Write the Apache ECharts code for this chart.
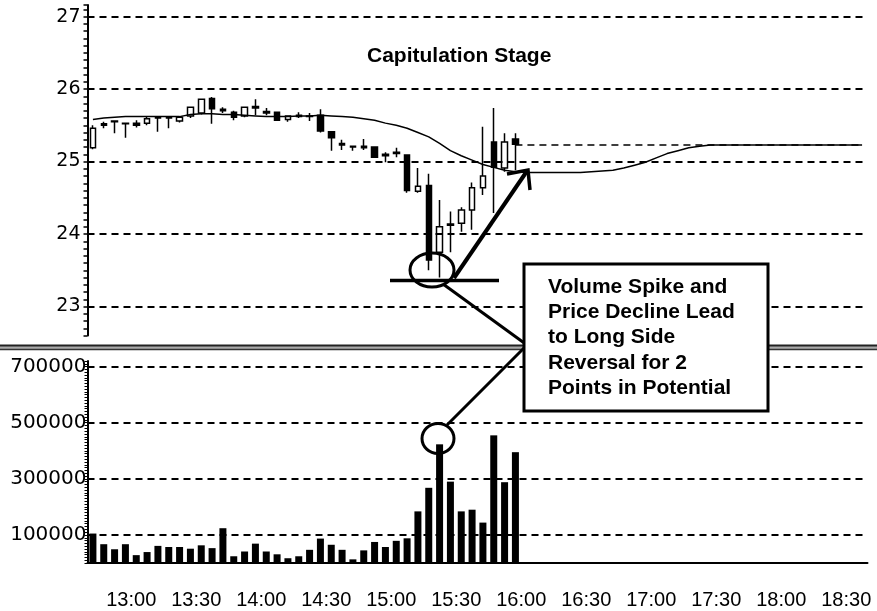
<!DOCTYPE html>
<html>
<head>
<meta charset="utf-8">
<script src="https://cdn.jsdelivr.net/npm/echarts@6/dist/echarts.min.js"></script>
<style>
html, body { margin: 0; padding: 0; background: #fff; }
#main { width: 877px; height: 611px; }
</style>
</head>
<body>
<div id="main"></div>
<script>
// 5 minute slots, 12:40 .. 18:35
var times = ['12:40', '12:45', '12:50', '12:55',
    '13:00', '13:05', '13:10', '13:15', '13:20', '13:25', '13:30', '13:35', '13:40', '13:45', '13:50', '13:55',
    '14:00', '14:05', '14:10', '14:15', '14:20', '14:25', '14:30', '14:35', '14:40', '14:45', '14:50', '14:55',
    '15:00', '15:05', '15:10', '15:15', '15:20', '15:25', '15:30', '15:35', '15:40', '15:45', '15:50', '15:55',
    '16:00', '16:05', '16:10', '16:15', '16:20', '16:25', '16:30', '16:35', '16:40', '16:45', '16:50', '16:55',
    '17:00', '17:05', '17:10', '17:15', '17:20', '17:25', '17:30', '17:35', '17:40', '17:45', '17:50', '17:55',
    '18:00', '18:05', '18:10', '18:15', '18:20', '18:25', '18:30', '18:35'];

// candles 12:40 .. 15:55
var opens  = [25.19, 25.52, 25.56, 25.53, 25.53, 25.53, 25.61, 25.61, 25.56, 25.63,
              25.67, 25.87, 25.72, 25.68, 25.63, 25.76, 25.69, 25.68, 25.58, 25.64,
              25.63, 25.64, 25.41, 25.25, 25.21, 25.21, 25.20, 25.10, 25.13, 25.09,
              24.59, 24.67, 23.75, 24.14, 24.15, 24.33, 24.64, 25.27, 24.91, 25.31];
var closes = [25.46, 25.50, 25.55, 25.52, 25.50, 25.59, 25.60, 25.60, 25.61, 25.75,
              25.86, 25.73, 25.70, 25.61, 25.75, 25.74, 25.67, 25.57, 25.63, 25.62,
              25.62, 25.42, 25.33, 25.23, 25.20, 25.19, 25.06, 25.08, 25.11, 24.60,
              24.66, 23.64, 24.10, 24.12, 24.33, 24.64, 24.80, 24.92, 25.27, 25.24];
var lows   = [25.17, 25.46, 25.39, 25.33, 25.47, 25.50, 25.41, 25.46, 25.54, 25.60,
              25.65, 25.52, 25.67, 25.57, 25.61, 25.64, 25.64, 25.56, 25.55, 25.60,
              25.56, 25.40, 25.15, 25.16, 25.15, 25.16, 25.05, 24.99, 25.06, 24.57,
              24.57, 23.50, 23.40, 23.75, 24.03, 24.06, 24.54, 24.29, 24.86, 24.88];
var highs  = [25.50, 25.55, 25.57, 25.54, 25.57, 25.63, 25.62, 25.63, 25.62, 25.76,
              25.87, 25.89, 25.75, 25.70, 25.76, 25.86, 25.74, 25.69, 25.64, 25.68,
              25.67, 25.72, 25.42, 25.30, 25.22, 25.31, 25.21, 25.13, 25.19, 25.10,
              24.91, 24.83, 24.47, 24.31, 24.37, 24.71, 25.48, 25.74, 25.39, 25.39];

var volumes = [105000, 67000, 49000, 67000, 28000, 39000, 61000, 57000, 57000, 51000,
               63000, 53000, 124000, 24000, 41000, 69000, 41000, 31000, 17000, 24000,
               47000, 87000, 65000, 47000, 13000, 45000, 75000, 57000, 79000, 88000,
               184000, 268000, 423000, 290000, 184000, 190000, 144000, 455000, 288000, 395000];

// average line, runs to the right edge
var avgLine = [25.58, 25.60, 25.61, 25.62, 25.62, 25.62, 25.62, 25.62, 25.62, 25.65,
               25.66, 25.66, 25.65, 25.65, 25.64, 25.63, 25.62, 25.62, 25.62, 25.63,
               25.63, 25.64, 25.63, 25.62, 25.61, 25.59, 25.57, 25.53, 25.50, 25.46,
               25.40, 25.34, 25.25, 25.15, 25.08, 25.02, 24.96, 24.92, 24.88, 24.86,
               24.85, 24.85, 24.85, 24.85, 24.85, 24.85, 24.86, 24.87, 24.88, 24.91,
               24.95, 24.99, 25.05, 25.11, 25.15, 25.19, 25.21, 25.23, 25.23, 25.23,
               25.23, 25.23, 25.23, 25.23, 25.23, 25.23, 25.23, 25.23, 25.23, 25.23,
               25.23, 25.23];

var priceLevels = [23, 24, 25, 26, 27];
var volumeLevels = [100000, 300000, 500000, 700000];
var lastPrice = 25.23;

var noteLines = ['Volume Spike and', 'Price Decline Lead', 'to Long Side', 'Reversal for 2', 'Points in Potential'];

var chart = echarts.init(document.getElementById('main'));

var gridDash = { color: '#000', width: 2, type: [7, 5] };
var labelFont = 'DejaVu Sans';
var boldFont = 'bold 21px "Liberation Sans", Arial';

function isHalfHour(value) {
    return /:(00|30)$/.test(value);
}

var candles = opens.map(function (o, i) {
    return [o, closes[i], lows[i], highs[i]];
});

var graphics = [
    // panel separator
    { type: 'rect', shape: { x: 0, y: 345, width: 877, height: 5 }, style: { fill: '#aaa' }, z: 100 },
    { type: 'line', shape: { x1: 0, y1: 345.5, x2: 877, y2: 345.5 }, style: { stroke: '#222', lineWidth: 2 }, z: 100 },
    { type: 'line', shape: { x1: 0, y1: 349.5, x2: 877, y2: 349.5 }, style: { stroke: '#333', lineWidth: 1.5 }, z: 100 },
    { type: 'text', style: { x: 367, y: 56, text: 'Capitulation Stage', font: boldFont, fill: '#000', verticalAlign: 'middle' }, z: 100 },
    // support line and circles
    { type: 'line', shape: { x1: 390, y1: 280.5, x2: 499, y2: 280.5 }, style: { stroke: '#000', lineWidth: 3.5 }, z: 100 },
    { type: 'ellipse', shape: { cx: 432, cy: 270, rx: 22, ry: 17 }, style: { stroke: '#000', fill: null, lineWidth: 3 }, z: 100 },
    { type: 'ellipse', shape: { cx: 438, cy: 438.5, rx: 16, ry: 15 }, style: { stroke: '#000', fill: null, lineWidth: 3 }, z: 100 },
    // arrow up to the reversal
    { type: 'line', shape: { x1: 454, y1: 278, x2: 527, y2: 171 }, style: { stroke: '#000', lineWidth: 4 }, z: 100 },
    { type: 'polyline', shape: { points: [[507, 174], [528, 170], [530, 190]] }, style: { stroke: '#000', lineWidth: 3.5, fill: null }, z: 100 },
    // pointers to the note
    { type: 'line', shape: { x1: 443, y1: 284, x2: 527, y2: 345 }, style: { stroke: '#000', lineWidth: 3 }, z: 100 },
    { type: 'line', shape: { x1: 447, y1: 425, x2: 527, y2: 345 }, style: { stroke: '#000', lineWidth: 3 }, z: 100 },
    { type: 'rect', shape: { x: 524, y: 264, width: 244, height: 147 }, style: { stroke: '#000', fill: '#fff', lineWidth: 3 }, z: 101 }
];
noteLines.forEach(function (t, i) {
    graphics.push({
        type: 'text', z: 102,
        style: { x: 548, y: 287 + i * 25.3, text: t, font: boldFont, fill: '#000', verticalAlign: 'middle' }
    });
});

var option = {
    animation: false,
    backgroundColor: '#fff',
    grid: [
        { left: 87.5, right: 9.5, top: 5, height: 330.5 },
        { left: 87.5, right: 9.5, top: 361, height: 202 }
    ],
    xAxis: [
        { gridIndex: 0, type: 'category', data: times, boundaryGap: true, show: false },
        {
            gridIndex: 1, type: 'category', data: times, boundaryGap: true,
            axisLine: { lineStyle: { color: '#000', width: 2 } },
            axisTick: { alignWithLabel: true, interval: 0, length: 7, lineStyle: { color: '#000', width: 1.5 } },
            axisLabel: {
                interval: function (idx, value) { return isHalfHour(value); },
                margin: 27, color: '#000', fontSize: 20,
                fontFamily: '"Liberation Sans", Arial, sans-serif',
                padding: [0, 10, 0, 0]
            }
        },
        {
            gridIndex: 1, type: 'category', data: times, boundaryGap: true, position: 'bottom',
            axisLine: { show: false },
            axisTick: { alignWithLabel: true, interval: function (idx, value) { return isHalfHour(value); }, length: 14, lineStyle: { color: '#000', width: 1.5 } },
            axisLabel: { show: false }
        }
    ],
    yAxis: [
        {
            gridIndex: 0, type: 'value', min: 22.6, max: 27.16, interval: 0.1,
            axisLine: { show: true, lineStyle: { color: '#000', width: 2 } },
            axisTick: { show: true, length: 4, lineStyle: { color: '#000', width: 1.5 } },
            splitLine: { show: false },
            axisLabel: {
                color: '#000', fontSize: 19, fontFamily: labelFont, margin: 7,
                formatter: function (v) {
                    return Math.abs(v - Math.round(v)) < 1e-6 ? String(Math.round(v)) : '';
                }
            }
        },
        {
            gridIndex: 1, type: 'value', min: 0, max: 720000, interval: 10000,
            axisLine: { show: true, lineStyle: { color: '#000', width: 2 } },
            axisTick: { show: true, length: 3, lineStyle: { color: '#000', width: 1 } },
            splitLine: { show: false },
            axisLabel: {
                color: '#000', fontSize: 20, fontFamily: labelFont, margin: 1,
                formatter: function (v) {
                    return volumeLevels.indexOf(Math.round(v)) >= 0 ? String(Math.round(v)) : '';
                }
            }
        }
    ],
    series: [
        {
            type: 'candlestick', xAxisIndex: 0, yAxisIndex: 0,
            data: candles, barWidth: 6,
            itemStyle: { color: '#fff', color0: '#000', borderColor: '#000', borderColor0: '#000', borderWidth: 1.5 },
            markLine: {
                silent: true, symbol: ['none', 'none'], label: { show: false },
                lineStyle: gridDash,
                data: priceLevels.map(function (v) { return { yAxis: v }; })
            }
        },
        {
            type: 'line', xAxisIndex: 0, yAxisIndex: 0,
            data: avgLine, showSymbol: false, smooth: false,
            lineStyle: { color: '#000', width: 1.5 },
            markLine: {
                silent: true, symbol: ['none', 'none'], label: { show: false },
                lineStyle: { color: '#000', width: 1.5, type: [7, 5] },
                data: [[{ coord: [times[39], lastPrice] }, { coord: [times[times.length - 1], lastPrice] }]]
            }
        },
        {
            type: 'bar', xAxisIndex: 1, yAxisIndex: 1,
            data: volumes, barWidth: 7,
            itemStyle: { color: '#000' },
            markLine: {
                silent: true, symbol: ['none', 'none'], label: { show: false },
                lineStyle: gridDash,
                data: volumeLevels.map(function (v) { return { yAxis: v }; })
            }
        }
    ],
    graphic: graphics
};

chart.setOption(option);

window.addEventListener('resize', function () {
    chart.resize();
});
</script>
</body>
</html>
